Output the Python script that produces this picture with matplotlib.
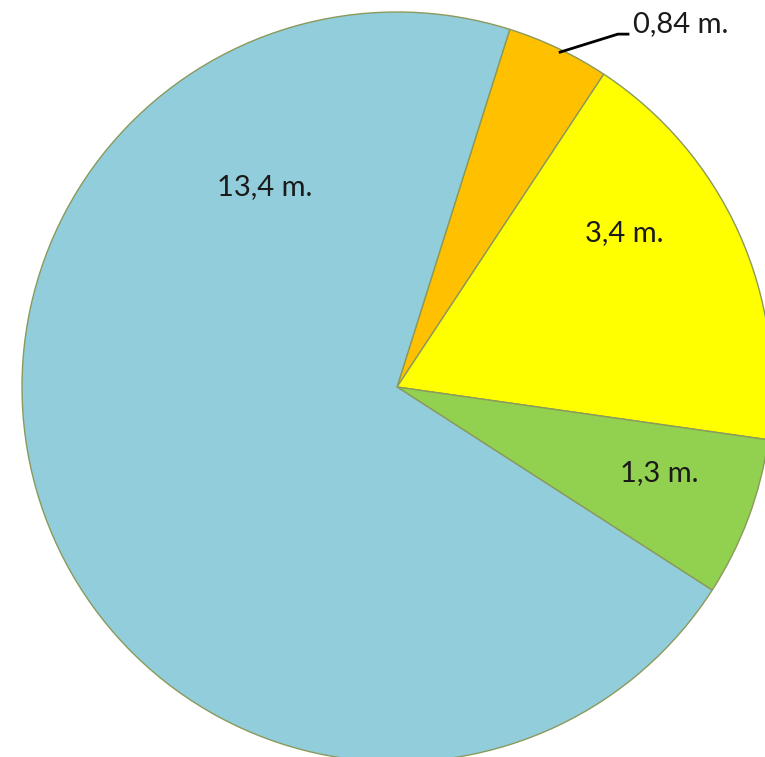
import matplotlib
matplotlib.use("Agg")
import matplotlib.pyplot as plt

labels = ["0,84 m.", "3,4 m.", "1,3 m.", "13,4 m."]
values = [0.84, 3.4, 1.3, 13.4]
colors = ["#FFC000", "#FFFF00", "#92D050", "#92CDDC"]

W, H = 765, 757
fig = plt.figure(figsize=(W / 100, H / 100), dpi=100)
cx, cy, r = 397, 387, 375
ax = fig.add_axes([(cx - r) / W, (H - cy - r) / H, 2 * r / W, 2 * r / H])
ax.pie(values, colors=colors, startangle=72.5, counterclock=False,
       wedgeprops=dict(edgecolor="#8a9a5b", linewidth=1.0), radius=1.0)
ax.set_xlim(-1, 1)
ax.set_ylim(-1, 1)
ax.set_aspect("equal")
ax.axis("off")

font = dict(family=["Lato", "DejaVu Sans"], fontsize=21, color="#1a1a1a")
ax.text(-0.352, 0.533, labels[3], ha="center", va="center", **font)
ax.text(0.605, 0.41, labels[1], ha="center", va="center", **font)
ax.text(0.70, -0.23, labels[2], ha="center", va="center", **font)
ax.text(0.629, 0.968, labels[0], ha="left", va="center", clip_on=False, **font)
ax.plot([0.435, 0.589, 0.616], [0.893, 0.941, 0.941], color="black", lw=2,
        clip_on=False)

fig.savefig("out.png", dpi=100)
